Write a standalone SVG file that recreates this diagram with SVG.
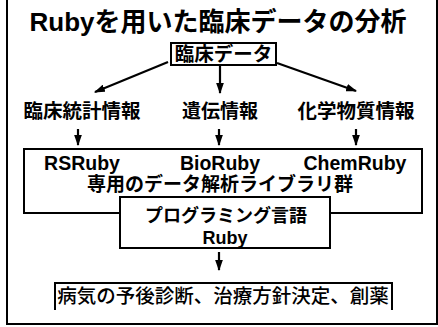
<svg xmlns="http://www.w3.org/2000/svg" width="438" height="327" viewBox="0 0 438 327">
<defs>
<marker id="ah" viewBox="0 0 10 7" refX="9" refY="3.5" markerWidth="5" markerHeight="3.5" orient="auto" markerUnits="strokeWidth">
<path d="M0,0 L10,3.5 L0,7 z" fill="#000"/>
</marker>
<style>
.t{font-family:"Liberation Sans","Noto Sans CJK JP",sans-serif;font-weight:bold;fill:#000;text-anchor:middle}
.box{fill:#fff;stroke:#000;stroke-width:2}
.c{stroke:#000;stroke-width:2.2;fill:none;marker-end:url(#ah)}
</style>
</defs>
<rect width="438" height="327" fill="#fff"/>
<path d="M7,-2 V324 H437 V-2" fill="none" stroke="#000" stroke-width="2"/>
<g id="title"><text class="t" x="218" y="31" font-size="26">Rubyを用いた臨床データの分析</text></g>
<g id="connectors">
<path class="c" d="M168,62 L95,92"/>
<path class="c" d="M220,66 L220,93"/>
<path class="c" d="M277,63 L356,91"/>
<path class="c" d="M78,129 L78,145"/>
<path class="c" d="M219,129 L219,145"/>
<path class="c" d="M356,129 L356,145"/>
<path class="c" d="M219,252 L219,270"/>
</g>
<g id="clinical"><rect class="box" x="171" y="43" width="105" height="22"/><text class="t" x="223.5" y="61" font-size="19.5">臨床データ</text></g>
<g id="label1"><text class="t" x="82" y="118" font-size="19.5">臨床統計情報</text></g>
<g id="label2"><text class="t" x="220" y="118" font-size="19">遺伝情報</text></g>
<g id="label3"><text class="t" x="356" y="118" font-size="19.5">化学物質情報</text></g>
<g id="library"><rect class="box" x="24" y="149" width="398" height="64"/>
<text class="t" x="82" y="170" font-size="19.5">RSRuby</text>
<text class="t" x="220" y="170" font-size="19.5">BioRuby</text>
<text class="t" x="355" y="170" font-size="19.5">ChemRuby</text>
<text class="t" x="220" y="191" font-size="19">専用のデータ解析ライブラリ群</text></g>
<g id="ruby"><rect class="box" x="120" y="197" width="210" height="51"/>
<text class="t" x="226" y="222" font-size="18">プログラミング言語</text>
<text class="t" x="225" y="244" font-size="18">Ruby</text></g>
<g id="result"><path d="M55,310 V283 H392 V310" fill="#fff" stroke="#000" stroke-width="2"/>
<text class="t" x="223" y="303" font-size="19.5" style="font-weight:500">病気の予後診断、治療方針決定、創薬</text></g>
</svg>
